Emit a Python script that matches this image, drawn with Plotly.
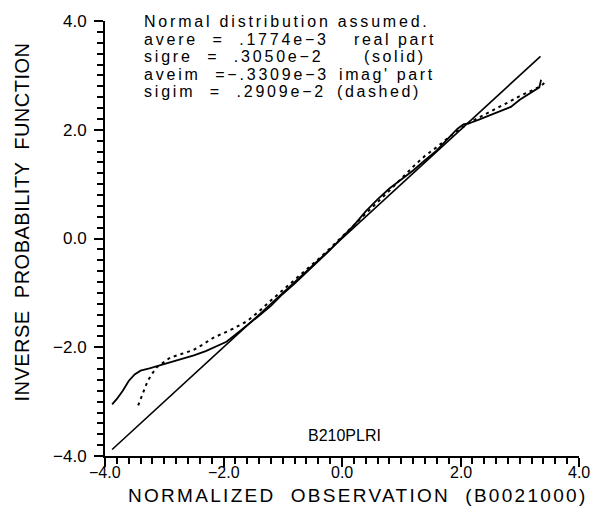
import plotly.graph_objects as go

# Reference normal line (y = x)
ref_x = [-3.88, 3.35]
ref_y = [-3.88, 3.35]

# Real part (solid)
re_x = [-3.88, -3.80, -3.70, -3.60, -3.50, -3.40, -3.25, -3.10, -2.90, -2.70, -2.50, -2.30,
        -2.10, -1.95, -1.80, -1.60, -1.40, -1.20, -1.00, -0.80, -0.60, -0.40, -0.20, 0.00,
        0.20, 0.40, 0.60, 0.80, 1.00, 1.20, 1.40, 1.60, 1.80, 1.95, 2.05, 2.15, 2.30, 2.50,
        2.70, 2.85, 3.00, 3.15, 3.28, 3.33, 3.36]
re_y = [-3.05, -2.95, -2.80, -2.62, -2.50, -2.43, -2.39, -2.34, -2.28, -2.22, -2.15, -2.07,
        -1.98, -1.90, -1.77, -1.60, -1.42, -1.24, -1.02, -0.83, -0.62, -0.42, -0.21, 0.02,
        0.24, 0.50, 0.72, 0.92, 1.08, 1.25, 1.44, 1.62, 1.85, 2.02, 2.10, 2.12, 2.18, 2.27,
        2.36, 2.42, 2.55, 2.66, 2.74, 2.78, 2.92]

# Imaginary part (dashed)
im_x = [-3.44, -3.36, -3.28, -3.20, -3.12, -3.00, -2.90, -2.70, -2.51, -2.35, -2.18, -2.00,
        -1.84, -1.60, -1.40, -1.20, -1.00, -0.80, -0.60, -0.40, -0.20, 0.00, 0.20, 0.40,
        0.60, 0.80, 1.00, 1.20, 1.40, 1.60, 1.80, 2.00, 2.20, 2.40, 2.60, 2.80, 3.00, 3.20,
        3.35, 3.46]
im_y = [-3.07, -2.85, -2.62, -2.48, -2.36, -2.27, -2.19, -2.12, -2.05, -1.95, -1.83, -1.74,
        -1.66, -1.52, -1.34, -1.14, -0.95, -0.77, -0.58, -0.38, -0.18, 0.03, 0.24, 0.45,
        0.66, 0.88, 1.10, 1.32, 1.52, 1.68, 1.86, 2.02, 2.16, 2.28, 2.39, 2.50, 2.62, 2.72,
        2.80, 2.90]

x_ticks = [-4, -2, 0, 2, 4]
y_ticks = [-4, -2, 0, 2, 4]

info_left = ["Normal distribution assumed.",
             "avere  =  .1774e\u22123",
             "sigre  =  .3050e\u22122",
             "aveim  =\u2212.3309e\u22123",
             "sigim  =  .2909e\u22122"]
info_right = ["", "real part", "(solid)", "imag' part", "(dashed)"]

FONT = "Liberation Sans"


def spaced(txt, px):
    return '<span style="letter-spacing:%.1fpx">%s</span>' % (px, txt)


def fmt(v):
    return ("\u2212" if v < 0 else "") + "%.1f" % abs(v)


fig = go.Figure()
fig.add_trace(go.Scatter(x=ref_x, y=ref_y, mode="lines",
                         line=dict(color="black", width=1.6), showlegend=False))
fig.add_trace(go.Scatter(x=re_x, y=re_y, mode="lines",
                         line=dict(color="black", width=1.8), showlegend=False))
fig.add_trace(go.Scatter(x=im_x, y=im_y, mode="lines",
                         line=dict(color="black", width=2, dash="3px,4px"), showlegend=False))

minor = dict(tickmode="linear", tick0=0, dtick=0.2, ticks="outside", ticklen=6,
             tickwidth=2, tickcolor="black", showgrid=False)
fig.update_xaxes(range=[-4, 4], showgrid=False, zeroline=False,
                 showline=True, linecolor="black", linewidth=2,
                 tickmode="array", tickvals=x_ticks, showticklabels=False,
                 ticks="outside", ticklen=9, tickwidth=2, tickcolor="black",
                 minor=minor)
fig.update_yaxes(range=[-4, 4], showgrid=False, zeroline=False,
                 showline=True, linecolor="black", linewidth=2,
                 tickmode="array", tickvals=y_ticks, ticktext=[fmt(v) for v in y_ticks],
                 ticks="outside", ticklen=9, tickwidth=2, tickcolor="black",
                 ticklabelstandoff=4,
                 tickfont=dict(family=FONT, size=17, color="black"),
                 minor=minor)

# x tick labels placed at the x-axis tick values
for v in x_ticks:
    fig.add_annotation(text=fmt(v), xref="x", yref="paper", x=v, y=0, yanchor="top",
                       xanchor="center", yshift=-6, showarrow=False,
                       font=dict(family=FONT, size=16, color="black"))

# info block (paper coords: x = (px-105)/474, y = (456-py)/438)
y_px = [18, 36.5, 54, 71.5, 89]
right_px = [0, 352, 362, 337, 335]
for i, txt in enumerate(info_left):
    fig.add_annotation(text=spaced(txt, 2.8), xref="paper", yref="paper",
                       x=(142 - 105) / 474, y=(456 - y_px[i]) / 438,
                       xanchor="left", yanchor="middle", showarrow=False,
                       font=dict(family=FONT, size=16, color="black"))
    if info_right[i]:
        fig.add_annotation(text=spaced(info_right[i], 2.6), xref="paper", yref="paper",
                           x=(right_px[i] - 105) / 474, y=(456 - y_px[i]) / 438,
                           xanchor="left", yanchor="middle", showarrow=False,
                           font=dict(family=FONT, size=16, color="black"))

fig.add_annotation(text="B210PLRI", xref="paper", yref="paper", x=0.506, y=0.046,
                   xanchor="center", yanchor="middle", showarrow=False,
                   font=dict(family=FONT, size=16, color="black"))
fig.add_annotation(text=spaced("NORMALIZED  OBSERVATION  (B0021000)", 2.3),
                   xref="paper", yref="paper",
                   x=(358 - 105) / 474, y=(456 - 496) / 438, xanchor="center",
                   yanchor="middle", showarrow=False,
                   font=dict(family=FONT, size=19, color="black"))
fig.add_annotation(text=spaced("INVERSE  PROBABILITY  FUNCTION", 0.5),
                   xref="paper", yref="paper",
                   x=(22 - 105) / 474, y=(456 - 221) / 438, xanchor="center",
                   yanchor="middle", showarrow=False, textangle=-90,
                   font=dict(family=FONT, size=20, color="black"))

fig.update_layout(
    width=591, height=508,
    margin=dict(l=105, r=12, t=18, b=52),
    paper_bgcolor="white", plot_bgcolor="white",
    showlegend=False,
)
fig.write_html("out.html")
